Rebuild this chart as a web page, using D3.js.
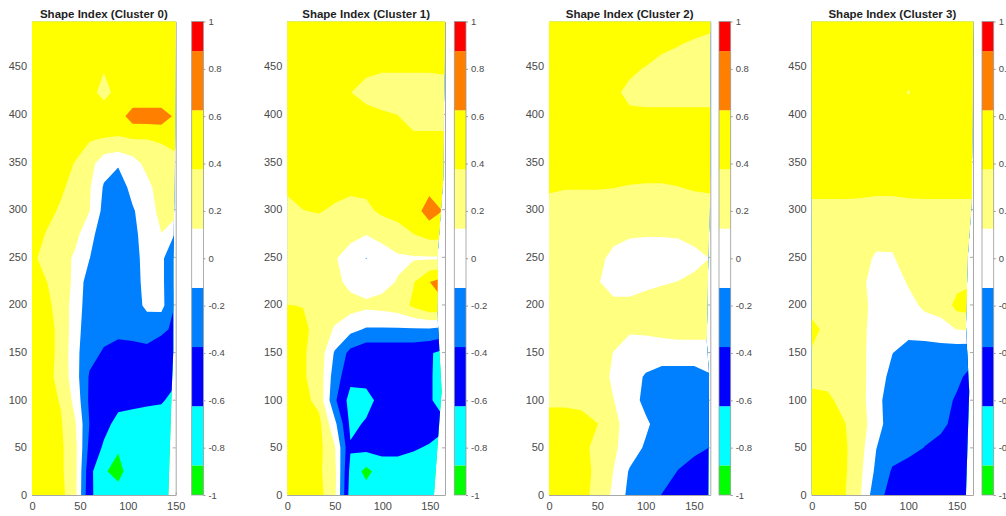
<!DOCTYPE html>
<html>
<head>
<meta charset="utf-8">
<script src="https://cdn.jsdelivr.net/npm/d3@7"></script>
<style>
  body { margin: 0; background: #fff; }
  svg { display: block; }
  text { font-family: "Liberation Sans", Arial, Helvetica, sans-serif; }
</style>
</head>
<body>
<svg id="chart" width="1006" height="516"></svg>
<script>
// ---- chart data -------------------------------------------------------
const titles = ["Shape Index (Cluster 0)", "Shape Index (Cluster 1)",
                "Shape Index (Cluster 2)", "Shape Index (Cluster 3)"];

// contour level edges and the colour of each band between them
const levelEdges = [-1, -0.875, -0.625, -0.375, -0.125, 0.125, 0.375, 0.625, 0.875, 1];
const levelColors = ["#00ff00", "#00ffff", "#0000ff", "#0080ff", "#ffffff",
                     "#ffff80", "#ffff00", "#ff8000", "#ff0000"];

const colorbarTicks = [-1, -0.8, -0.6, -0.4, -0.2, 0, 0.2, 0.4, 0.6, 0.8, 1];
const colorbarLabels = ["-1", "-0.8", "-0.6", "-0.4", "-0.2", "0", "0.2", "0.4", "0.6", "0.8", "1"];
const yTicks = [0, 50, 100, 150, 200, 250, 300, 350, 400, 450];
const xTicks = [0, 50, 100, 150];

const yMax = 497;                     // top of every grid
const xMax = [150, 166, 167, 167];    // right end of each x axis

// shape index on an 11 x 21 grid, rows from y = yMax (top) down to y = 0
const cluster0 = [
  [0.5,0.5,0.5,0.5,0.5,0.5,0.5,0.5,0.5,0.5,0.5],
  [0.5,0.5,0.5,0.5,0.5,0.5,0.5,0.5,0.5,0.5,0.5],
  [0.5,0.5,0.5,0.5,0.5,0.4,0.5,0.5,0.5,0.5,0.5],
  [0.5,0.5,0.5,0.5,0.5,0.25,0.5,0.4,0.4,0.4,0.42],
  [0.5,0.5,0.5,0.5,0.5,0.62,0.5,0.75,0.75,0.75,0.58],
  [0.5,0.5,0.5,0.5,0.39,0.35,0.35,0.36,0.37,0.4,0.45],
  [0.5,0.5,0.5,0.36,0.22,-0.02,-0.1,0.02,0.2,0.25,0.3],
  [0.5,0.5,0.42,0.28,0.15,-0.15,-0.25,-0.05,0.05,0.25,0.25],
  [0.5,0.45,0.34,0.25,0.13,-0.2,-0.3,-0.15,0.0,0.2,0.25],
  [0.5,0.36,0.28,0.2,-0.05,-0.25,-0.3,-0.2,0.0,0.12,-0.15],
  [0.42,0.3,0.25,0.08,-0.12,-0.3,-0.3,-0.2,-0.05,-0.05,-0.45],
  [0.5,0.38,0.3,0.05,-0.25,-0.3,-0.3,-0.22,-0.05,-0.05,-0.45],
  [0.5,0.42,0.3,0.0,-0.25,-0.3,-0.3,-0.22,-0.08,-0.05,-0.4],
  [0.5,0.45,0.32,-0.02,-0.28,-0.3,-0.32,-0.3,-0.25,-0.33,-0.42],
  [0.5,0.45,0.32,-0.05,-0.3,-0.4,-0.45,-0.45,-0.45,-0.5,-0.5],
  [0.5,0.45,0.3,-0.02,-0.4,-0.5,-0.5,-0.5,-0.5,-0.55,-0.58],
  [0.5,0.45,0.36,0.05,-0.42,-0.5,-0.55,-0.55,-0.58,-0.6,-0.7],
  [0.5,0.45,0.4,0.15,-0.38,-0.55,-0.7,-0.75,-0.75,-0.75,-0.75],
  [0.5,0.45,0.42,0.2,-0.45,-0.66,-0.85,-0.75,-0.75,-0.75,-0.75],
  [0.5,0.5,0.42,0.2,-0.55,-0.85,-0.95,-0.75,-0.75,-0.75,-0.75],
  [0.5,0.5,0.45,0.2,-0.58,-0.75,-0.78,-0.75,-0.75,-0.75,-0.75]
];

const cluster1 = [
  [0.5,0.5,0.5,0.5,0.5,0.5,0.5,0.5,0.5,0.5,0.5],
  [0.5,0.5,0.5,0.5,0.5,0.5,0.5,0.5,0.5,0.5,0.5],
  [0.5,0.5,0.5,0.5,0.45,0.42,0.39,0.39,0.39,0.39,0.4],
  [0.5,0.5,0.5,0.5,0.38,0.3,0.3,0.3,0.3,0.3,0.3],
  [0.5,0.5,0.5,0.5,0.5,0.45,0.4,0.38,0.3,0.3,0.3],
  [0.5,0.5,0.5,0.5,0.5,0.5,0.5,0.5,0.42,0.42,0.42],
  [0.5,0.5,0.5,0.5,0.5,0.5,0.5,0.5,0.5,0.5,0.5],
  [0.42,0.45,0.47,0.45,0.42,0.43,0.47,0.5,0.5,0.55,0.55],
  [0.3,0.37,0.39,0.34,0.3,0.32,0.42,0.44,0.5,0.75,0.6],
  [0.25,0.25,0.25,0.25,0.2,0.13,0.2,0.3,0.37,0.45,0.45],
  [0.25,0.25,0.25,0.15,0.0,-0.13,0.0,0.08,0.1,0.1,0.1],
  [0.25,0.25,0.25,0.2,0.05,-0.02,0.05,0.14,0.36,0.62,0.75],
  [0.38,0.37,0.3,0.25,0.22,0.18,0.2,0.25,0.42,0.58,0.6],
  [0.45,0.42,0.3,0.1,-0.05,-0.15,-0.15,-0.15,-0.15,-0.15,-0.2],
  [0.5,0.4,0.28,-0.15,-0.45,-0.55,-0.55,-0.55,-0.55,-0.6,-0.7],
  [0.5,0.4,0.28,-0.25,-0.55,-0.55,-0.55,-0.5,-0.5,-0.6,-0.72],
  [0.5,0.45,0.3,-0.33,-0.72,-0.7,-0.55,-0.5,-0.5,-0.6,-0.72],
  [0.5,0.5,0.45,-0.05,-0.68,-0.6,-0.55,-0.55,-0.55,-0.5,-0.6],
  [0.5,0.5,0.45,0.15,-0.6,-0.55,-0.55,-0.55,-0.6,-0.65,-0.68],
  [0.5,0.5,0.42,0.2,-0.7,-0.95,-0.75,-0.75,-0.75,-0.75,-0.75],
  [0.5,0.5,0.45,0.2,-0.75,-0.75,-0.75,-0.75,-0.75,-0.75,-0.75]
];

const cluster2 = [
  [0.5,0.5,0.5,0.5,0.5,0.5,0.5,0.5,0.5,0.5,0.45],
  [0.5,0.5,0.5,0.5,0.5,0.5,0.5,0.42,0.38,0.33,0.3],
  [0.5,0.5,0.5,0.5,0.5,0.42,0.36,0.3,0.3,0.3,0.3],
  [0.5,0.5,0.5,0.5,0.42,0.32,0.3,0.3,0.3,0.3,0.3],
  [0.5,0.5,0.5,0.5,0.5,0.42,0.42,0.42,0.42,0.42,0.42],
  [0.5,0.5,0.5,0.5,0.5,0.5,0.5,0.5,0.5,0.5,0.5],
  [0.5,0.5,0.5,0.5,0.5,0.5,0.5,0.5,0.5,0.5,0.5],
  [0.42,0.39,0.39,0.39,0.38,0.36,0.35,0.35,0.37,0.4,0.42],
  [0.25,0.25,0.25,0.25,0.25,0.25,0.25,0.25,0.25,0.25,0.25],
  [0.25,0.25,0.25,0.25,0.2,0.15,0.14,0.14,0.15,0.2,0.25],
  [0.25,0.25,0.25,0.2,0.05,0.0,0.0,0.0,0.0,0.05,0.13],
  [0.25,0.25,0.25,0.15,0.0,0.0,0.05,0.1,0.13,0.18,0.2],
  [0.25,0.25,0.25,0.25,0.2,0.2,0.25,0.25,0.25,0.25,0.25],
  [0.25,0.25,0.25,0.25,0.2,0.16,0.17,0.18,0.2,0.2,0.2],
  [0.25,0.25,0.25,0.22,0.12,0.0,0.0,0.03,0.03,0.03,0.03],
  [0.25,0.25,0.25,0.25,0.08,-0.02,-0.15,-0.25,-0.25,-0.25,-0.15],
  [0.32,0.32,0.32,0.25,0.13,0.0,-0.2,-0.28,-0.28,-0.28,-0.28],
  [0.5,0.5,0.45,0.38,0.2,0.0,-0.08,-0.25,-0.28,-0.3,-0.3],
  [0.5,0.5,0.45,0.3,0.17,0.0,-0.16,-0.28,-0.3,-0.33,-0.38],
  [0.5,0.5,0.45,0.33,0.12,-0.15,-0.25,-0.3,-0.38,-0.45,-0.5],
  [0.5,0.5,0.45,0.3,0.08,-0.2,-0.28,-0.38,-0.45,-0.5,-0.5]
];

const cluster3 = [
  [0.5,0.5,0.5,0.5,0.5,0.5,0.5,0.5,0.5,0.5,0.5],
  [0.5,0.5,0.5,0.5,0.5,0.5,0.5,0.5,0.5,0.5,0.5],
  [0.5,0.5,0.5,0.5,0.5,0.5,0.5,0.5,0.5,0.5,0.5],
  [0.5,0.5,0.5,0.5,0.5,0.5,0.36,0.5,0.5,0.5,0.5],
  [0.5,0.5,0.5,0.5,0.5,0.5,0.5,0.5,0.5,0.5,0.5],
  [0.5,0.5,0.5,0.5,0.5,0.5,0.5,0.5,0.5,0.5,0.5],
  [0.5,0.5,0.5,0.5,0.5,0.5,0.5,0.5,0.5,0.5,0.5],
  [0.45,0.45,0.45,0.44,0.42,0.42,0.44,0.45,0.45,0.45,0.45],
  [0.3,0.3,0.3,0.3,0.3,0.3,0.3,0.3,0.3,0.3,0.3],
  [0.25,0.25,0.25,0.25,0.24,0.2,0.25,0.25,0.25,0.25,0.25],
  [0.25,0.25,0.25,0.25,0.08,0.1,0.25,0.25,0.25,0.25,0.25],
  [0.25,0.25,0.25,0.2,0.0,0.0,0.15,0.25,0.25,0.3,0.35],
  [0.28,0.25,0.25,0.2,0.05,-0.02,0.05,0.17,0.2,0.45,0.5],
  [0.45,0.3,0.25,0.2,0.02,0.0,-0.02,0.0,0.05,0.13,0.15],
  [0.35,0.28,0.25,0.2,0.0,-0.12,-0.25,-0.25,-0.25,-0.28,-0.3],
  [0.3,0.3,0.25,0.2,0.0,-0.2,-0.28,-0.28,-0.28,-0.33,-0.45],
  [0.45,0.42,0.3,0.22,-0.05,-0.25,-0.3,-0.3,-0.3,-0.4,-0.5],
  [0.5,0.45,0.39,0.25,-0.03,-0.25,-0.3,-0.3,-0.32,-0.45,-0.5],
  [0.5,0.5,0.42,0.22,-0.12,-0.28,-0.3,-0.38,-0.45,-0.5,-0.5],
  [0.5,0.5,0.42,0.18,-0.18,-0.4,-0.48,-0.5,-0.5,-0.5,-0.5],
  [0.5,0.5,0.4,0.15,-0.3,-0.45,-0.5,-0.5,-0.5,-0.5,-0.5]
];

// right-hand limit of the measured data, as [y, x] pairs from top to bottom
const rightEdge0 = [[497,150],[362,149.3],[249,147.5],[152,147.5],[109,145.8],[0,142.3]];
const rightEdge1 = [[497,166],[330,164],[257,158.6],[190,158],[109,162.5],[86,160.7],[0,154.4]];
const rightEdge2 = [[497,167],[310,166.7],[249,164.9],[162,163.3],[126,165.7],[0,165]];
const rightEdge3 = [[497,167.3],[306,165.6],[249,161.5],[178,159.7],[162,160.4],[109,163.1],[0,159.7]];

const clusters = [cluster0, cluster1, cluster2, cluster3];
const rightEdges = [rightEdge0, rightEdge1, rightEdge2, rightEdge3];

// ---- layout -----------------------------------------------------------
const plotTop = 21.5, plotBottom = 495;
const panels = [
  { left: 32,    right: 175.7, cbLeft: 191.7 },
  { left: 287.3, right: 445,   cbLeft: 454.3 },
  { left: 549,   right: 710.3, cbLeft: 719   },
  { left: 811.7, right: 973,   cbLeft: 982   }
];
const cbWidth = 11.7;
const axisColor = "#a8a8a8";
const labelColor = "#4a4a4a";

const svg = d3.select("#chart");
const defs = svg.append("defs");

const y = d3.scaleLinear().domain([0, yMax]).range([plotBottom, plotTop]);
const cb = d3.scaleLinear().domain([-1, 1]).range([plotBottom, plotTop]);

panels.forEach((p, k) => {
  const grid = clusters[k];
  const ny = grid.length, nx = grid[0].length;
  const x = d3.scaleLinear().domain([0, xMax[k]]).range([p.left, p.right]);
  const dxStep = xMax[k] / (nx - 1), dyStep = yMax / (ny - 1);

  // axes sit underneath the filled contours, so only their uncovered parts show
  const yAxis = svg.append("g").attr("transform", `translate(${p.left},0)`)
    .call(d3.axisLeft(y).tickValues(yTicks).tickSize(-3).tickSizeOuter(0).tickPadding(5));
  const xAxis = svg.append("g").attr("transform", `translate(0,${plotBottom})`)
    .call(d3.axisBottom(x).tickValues(xTicks).tickSize(-3).tickSizeOuter(0).tickPadding(7.5));
  const rAxis = svg.append("g").attr("transform", `translate(${p.right},0)`)
    .call(d3.axisRight(y).tickValues(yTicks).tickSize(-3).tickSizeOuter(0).tickFormat(""));
  [yAxis, xAxis, rAxis].forEach(a => {
    a.select(".domain").attr("stroke", axisColor);
    a.selectAll(".tick line").attr("stroke", axisColor);
    a.selectAll("text").attr("fill", labelColor).style("font-size", "11px");
  });

  // grid coordinates (sample i sits at i + 0.5) -> data -> pixels
  const toPixels = d3.geoTransform({
    point(gx, gy) {
      this.stream.point(x((gx - 0.5) * dxStep), y(yMax - (gy - 0.5) * dyStep));
    }
  });
  const path = d3.geoPath(toPixels);

  const bands = d3.contours()
    .size([nx, ny])
    .thresholds(levelEdges.slice(1, -1))(grid.flat());

  // clip to the area actually covered by the data
  const outline = [[0, 0], [0, yMax]].concat(rightEdges[k].map(([yy, xx]) => [xx, yy]));
  defs.append("clipPath").attr("id", "clip" + k)
    .append("polygon")
    .attr("points", outline.map(([xx, yy]) => x(xx) + "," + y(yy)).join(" "));

  const g = svg.append("g").attr("clip-path", "url(#clip" + k + ")");
  g.append("rect")
    .attr("x", p.left).attr("y", plotTop)
    .attr("width", p.right - p.left).attr("height", plotBottom - plotTop)
    .attr("fill", levelColors[0]);
  bands.forEach((b, i) => {
    g.append("path").attr("d", path(b)).attr("fill", levelColors[i + 1]);
  });

  // title
  svg.append("text")
    .attr("x", (p.left + p.right) / 2).attr("y", 17.5)
    .attr("text-anchor", "middle")
    .style("font-size", "11.5px").style("font-weight", "bold")
    .attr("fill", "#1f1f1f")
    .text(titles[k]);

  // colour bar
  const bar = svg.append("g");
  levelColors.forEach((c, i) => {
    bar.append("rect")
      .attr("x", p.cbLeft).attr("width", cbWidth)
      .attr("y", cb(levelEdges[i + 1])).attr("height", cb(levelEdges[i]) - cb(levelEdges[i + 1]))
      .attr("fill", c);
  });
  bar.append("rect")
    .attr("x", p.cbLeft).attr("y", plotTop)
    .attr("width", cbWidth).attr("height", plotBottom - plotTop)
    .attr("fill", "none").attr("stroke", "#9a9a9a").attr("stroke-width", 0.8);
  const cbAxis = svg.append("g").attr("transform", `translate(${p.cbLeft + cbWidth},0)`)
    .call(d3.axisRight(cb).tickValues(colorbarTicks).tickSize(2).tickSizeOuter(0).tickPadding(3)
      .tickFormat((d, i) => colorbarLabels[i]));
  cbAxis.select(".domain").remove();
  cbAxis.selectAll(".tick line").attr("stroke", "#9a9a9a");
  cbAxis.selectAll("text").attr("fill", labelColor).style("font-size", "9.5px");
});
</script>
</body>
</html>
